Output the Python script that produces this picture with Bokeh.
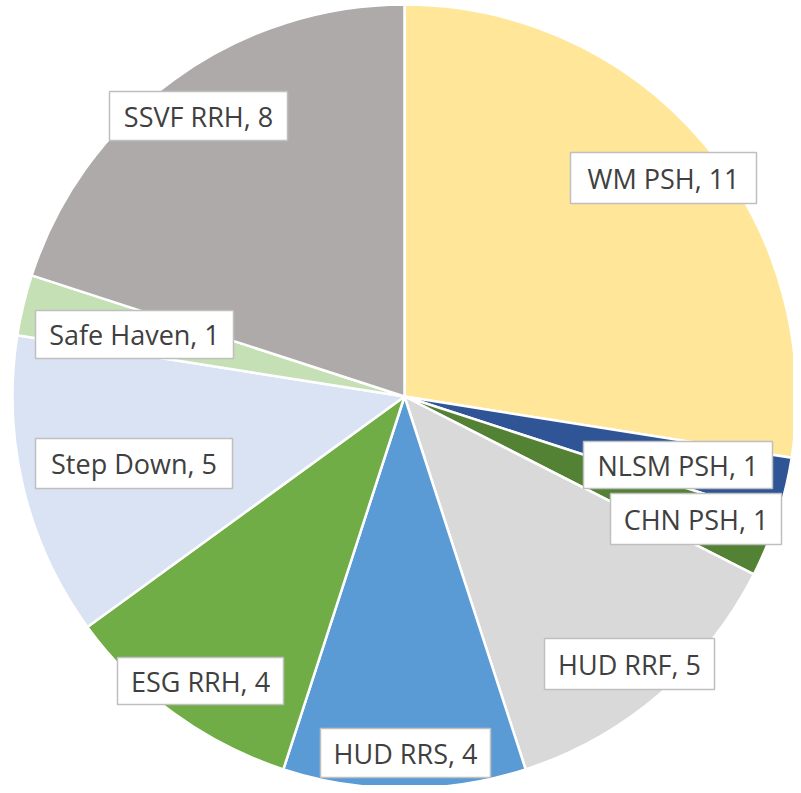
import numpy as np
from bokeh.plotting import figure
from bokeh.models import Range1d, ColumnDataSource
from bokeh.core.properties import value
from bokeh.embed import file_html
from bokeh.resources import INLINE

# ---- data ----
categories = ["WM PSH", "NLSM PSH", "CHN PSH", "HUD RRF", "HUD RRS",
              "ESG RRH", "Step Down", "Safe Haven", "SSVF RRH"]
counts = [11, 1, 1, 5, 4, 4, 5, 1, 8]
colors = ["#FFE699", "#2F5597", "#548235", "#D9D9D9", "#5B9BD5",
          "#70AD47", "#DAE3F3", "#C5E0B4", "#AEAAAA"]

# ---- layout (pixel coords: box left, right, top, bottom) ----
label_boxes = [
    (570, 756, 152, 203),
    (583, 772, 441, 488),
    (610, 781, 493, 544),
    (544, 714, 638, 689),
    (320, 490, 728, 777),
    (117, 283, 657, 704),
    (35, 232, 438, 488),
    (35, 233, 310, 358),
    (109, 287, 91, 140),
]

H = 793
cx, cy_img, r = 404, 396, 392

vals = np.array(counts, dtype=float)
cum = np.concatenate([[0], np.cumsum(vals)])
total = vals.sum()
start = np.pi / 2 - cum[:-1] / total * 2 * np.pi
end = np.pi / 2 - cum[1:] / total * 2 * np.pi

src = ColumnDataSource(dict(x=[cx] * len(counts), y=[H - cy_img] * len(counts),
                            start=start, end=end, color=colors))

p = figure(width=793, height=785, x_range=Range1d(0, 793), y_range=Range1d(H - 785, H),
           output_backend="svg", toolbar_location=None, min_border=0)
p.axis.visible = False
p.grid.visible = False
p.outline_line_color = None
p.background_fill_color = "white"

p.wedge(x="x", y="y", radius=r, start_angle="start", end_angle="end",
        direction="clock", fill_color="color", line_color="white", line_width=2.5,
        source=src)

lefts = [b[0] for b in label_boxes]
rights = [b[1] for b in label_boxes]
tops = [H - b[2] for b in label_boxes]
bottoms = [H - b[3] for b in label_boxes]
texts = [f"{c}, {v}" for c, v in zip(categories, counts)]
lsrc = ColumnDataSource(dict(left=lefts, right=rights, top=tops, bottom=bottoms,
                             xc=[(a + b) / 2 for a, b in zip(lefts, rights)],
                             yc=[(a + b) / 2 for a, b in zip(tops, bottoms)],
                             text=texts))
p.quad(left="left", right="right", top="top", bottom="bottom", source=lsrc,
       fill_color="white", line_color="#BFBFBF", line_width=1.5)
p.text(x="xc", y="yc", text="text", source=lsrc, text_align="center",
       text_baseline="middle", text_font=value("Open Sans"), text_font_size="27px",
       text_color="#404040")

open("out.html", "w").write(file_html(p, INLINE))
